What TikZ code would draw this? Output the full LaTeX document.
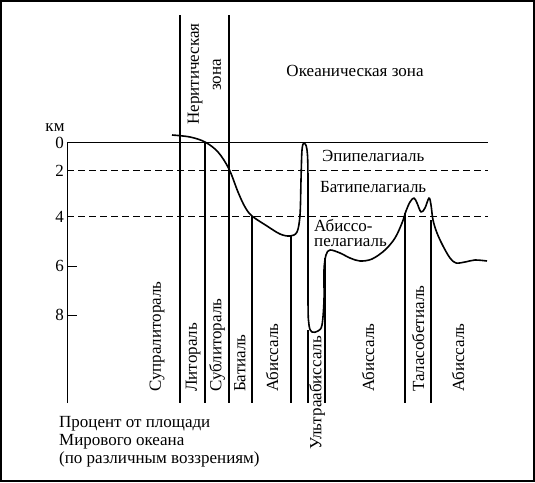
\documentclass[tikz,border=0pt]{standalone}
\usepackage{fontspec}
\setmainfont{Liberation Serif}
\begin{document}
\begin{tikzpicture}[x=1pt,y=-1pt,
  font=\fontsize{17}{19}\selectfont,
  lbl/.style={inner sep=0pt},
  vlbl/.style={inner sep=0pt, rotate=90, anchor=west},
  zline/.style={line width=1.6pt},
  axline/.style={line width=1pt},
  dline/.style={line width=0.9pt, dash pattern=on 7pt off 4pt},
  prof/.style={line width=1.6pt, line join=round}]
\useasboundingbox (0,0) rectangle (535,482);
\draw[line width=2pt] (1,1) rectangle (533.5,480.5);
% axes
\draw[axline] (67,403) -- (67,142) -- (488,142);
\draw[dline] (67,170) -- (488,170);
\draw[dline] (67,216) -- (488,216);
\draw[axline] (67,266) -- (77,266);
\draw[axline] (67,315) -- (77,315);
% axis labels
\node[lbl] (km) at (55,128) {км};
\node[lbl, anchor=east] (t0) at (64,143) {0};
\node[lbl, anchor=east] (t2) at (64,171) {2};
\node[lbl, anchor=east] (t4) at (64,217) {4};
\node[lbl, anchor=east] (t6) at (64,266) {6};
\node[lbl, anchor=east] (t8) at (64,315) {8};
% vertical zone lines
\draw[zline] (180,15) -- (180,403);
\draw[zline] (229,15) -- (229,403);
\draw[zline] (205,142) -- (205,403);
\draw[zline] (252,216) -- (252,403);
\draw[zline] (291,236) -- (291,403);
\draw[zline] (308,330) -- (308,403);
\draw[zline] (325,258) -- (325,403);
\draw[zline] (405,213) -- (405,403);
\draw[zline] (431,220) -- (431,403);
% profile
\draw[prof] plot[smooth, tension=0.55] coordinates {
 (172,135) (190,137) (205,142) (218,152) (229,169) (238,192) (245,207)
 (252,216) (267,226) (280,234) (290,236) (297,232) (300,215) (301,180)
 (302,150) (304,143) (307,150) (308,180) (308,300) (309,325) (312,332)
 (318,331) (322,325) (324,300) (324,270) (326,255) (330,250) (340,253)
 (350,258) (360,261) (372,259) (385,250) (395,238) (402,223) (406,211)
 (410,202) (414,198) (417,203) (421,212) (425,208) (429,198) (431,205)
 (433,220) (437,233) (443,246) (450,258) (456,263) (465,262) (475,260) (487,261)};
% labels
\node[vlbl] (ner) at (195,23) [anchor=east] {Неритическая};
\node[vlbl] (zona) at (217,59) [anchor=east] {зона};
\node[lbl] (ocean) at (355,71) {Океаническая зона};
\node[lbl, anchor=west] (epi) at (322,156) {Эпипелагиаль};
\node[lbl, anchor=west] (bati) at (320,187) {Батипелагиаль};
\node[lbl, anchor=base west] (abis1) at (314,231.5) {Абиссо-};
\node[lbl, anchor=base west] (abis2) at (314,246) {пелагиаль};
\node[vlbl] (supra) at (157,392) {Супралитораль};
\node[vlbl] (lit) at (193,392) {Литораль};
\node[vlbl] (subl) at (217,392) {Сублитораль};
\node[vlbl] (bat) at (240,392) {Батиаль};
\node[vlbl] (ab1) at (272,392) {Абиссаль};
\node[vlbl] (ultra) at (317,450) {Ультраабиссаль};
\node[vlbl] (ab2) at (368,392) {Абиссаль};
\node[vlbl] (tal) at (418,392) {Таласобетиаль};
\node[vlbl] (ab3) at (458,392) {Абиссаль};
\node[lbl, anchor=base west] (pct1) at (59,427) {Процент от площади};
\node[lbl, anchor=base west] (pct2) at (59,445.5) {Мирового океана};
\node[lbl, anchor=base west] (pct3) at (59,463.5) {(по различным воззрениям)};
\end{tikzpicture}
\end{document}
